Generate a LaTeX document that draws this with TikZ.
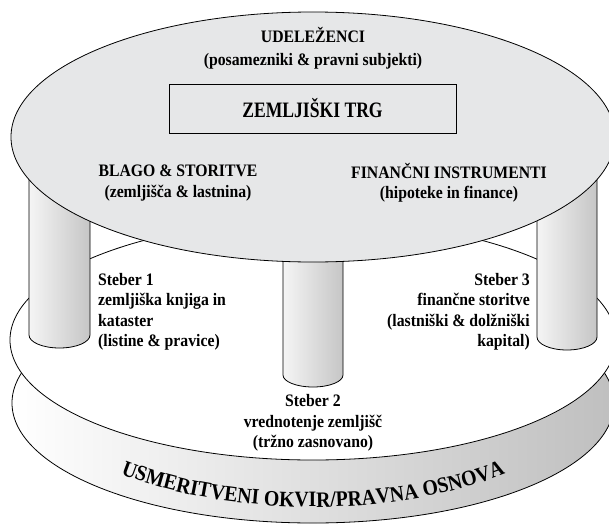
\documentclass[tikz,border=0pt]{standalone}
\usepackage{fontspec}
\setmainfont{Liberation Serif}[FakeStretch=0.9]
\newfontfamily\trgfont{Liberation Serif}[FakeStretch=0.8]
\usetikzlibrary{decorations.text}
\definecolor{discgray}{RGB}{230,231,232}

\begin{document}
\begin{tikzpicture}[x=1pt,y=-1pt,
  txt/.style={font=\bfseries\fontsize{17.5}{20.5}\selectfont, inner sep=0pt},
  rim/.style={draw, line width=0.8pt},
  pillar/.style={rim, left color=gray!8, right color=gray!45}]
 \clip (0,0) rectangle (609,527);
 % base ring and platform
 \draw[rim,left color=white,right color=gray!50] (313,403) ellipse [x radius=301, y radius=120];
 \draw[rim,fill=white] (313,340) ellipse [x radius=303, y radius=120];
 % the three pillars
 \draw[pillar] (29,170) -- (29,335) arc [start angle=180, end angle=0, x radius=30.5, y radius=13] -- (90,170) -- cycle;
 \draw[pillar] (283,200) -- (283,375) arc [start angle=180, end angle=0, x radius=30, y radius=12] -- (343,200) -- cycle;
 \draw[pillar] (537,170) -- (537,337) arc [start angle=180, end angle=0, x radius=30, y radius=13] -- (597,170) -- cycle;
 % top disc
 \draw[rim,fill=discgray] (313,137) ellipse [x radius=302, y radius=125];
 \node[txt,align=center,font=\bfseries\fontsize{17.5}{23}\selectfont] (udelezenci) at (313,48.5) {UDELEŽENCI\\(posamezniki \& pravni subjekti)};
 \node[rim,minimum width=287pt,minimum height=49pt,font=\trgfont\bfseries\fontsize{22}{22}\selectfont] (trg) at (312.5,108.5) {ZEMLJIŠKI TRG};
 \node[txt,align=center] (blago) at (178,183) {BLAGO \& STORITVE\\(zemljišča \& lastnina)};
 \node[txt,align=center] (instrumenti) at (449,183) {FINANČNI INSTRUMENTI\\(hipoteke in finance)};
 \node[txt,align=left,anchor=west] (steber1) at (98,312) {Steber 1\\zemljiška knjiga in\\kataster\\(listine \& pravice)};
 \node[txt,align=center] (steber2) at (313,423) {Steber 2\\vrednotenje zemljišč\\(tržno zasnovano)};
 \node[txt,align=right,anchor=east] (steber3) at (530,312) {Steber 3\\finančne storitve\\(lastniški \& dolžniški\\kapital)};
 % text on the ring
 \path[decorate, decoration={text along path, text align=center,
   text={|\bfseries\fontsize{22}{22}\selectfont|USMERITVENI OKVIR/PRAVNA OSNOVA}}]
   plot[domain=195:345, samples=80] ({313+300*cos(\x)}, {365-142*sin(\x)});
\end{tikzpicture}
\end{document}
